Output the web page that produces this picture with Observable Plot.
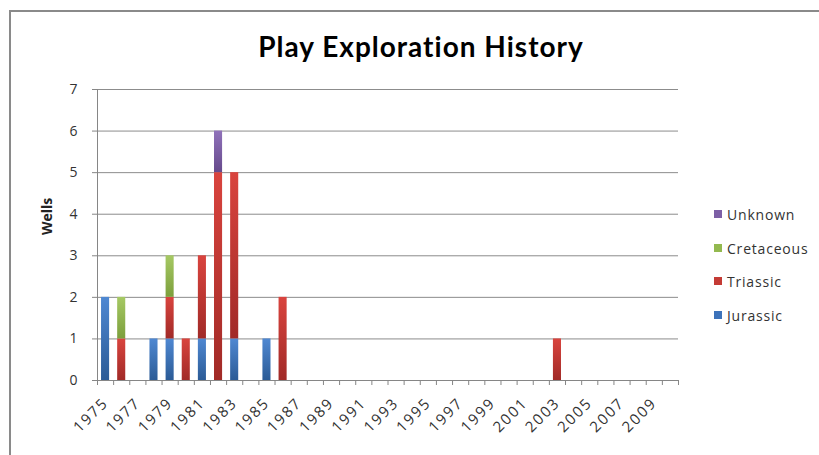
<!DOCTYPE html>
<html>
<head>
<meta charset="utf-8">
<script src="https://cdn.jsdelivr.net/npm/d3@7"></script>
<script src="https://cdn.jsdelivr.net/npm/@observablehq/plot@0.6"></script>
<style>
  html, body { margin: 0; padding: 0; background: #fff; }
  #wrap { position: relative; width: 819px; height: 455px; overflow: hidden; background: #fff; }
  #frame { position: absolute; left: 9px; top: 10px; width: 830px; height: 460px;
           border-top: 2px solid #8a8a8a; border-left: 2px solid #8a8a8a; box-sizing: border-box; }
  #title { position: relative; height: 70px; text-align: center; }
  #title span { position: absolute; left: 421px; top: 32px; transform: translateX(-50%);
                font-family: Lato, "Open Sans", sans-serif; font-weight: bold; font-size: 28px;
                letter-spacing: 1px; color: #000; white-space: nowrap; line-height: 1; }
  #legend { position: absolute; left: 714px; top: 0; font-family: "Open Sans", sans-serif;
            font-size: 14px; color: #333; letter-spacing: 0.8px; }
  .item { position: absolute; left: 0; white-space: nowrap; display: flex; align-items: center; }
  .sw { width: 8px; height: 8px; margin-right: 5px; }
  g[aria-label="x-axis tick label"] text { letter-spacing: 1.8px; }
</style>
</head>
<body>
<div id="wrap">
  <div id="frame"></div>
  <div id="title"><span>Play Exploration History</span></div>
  <div id="chart"></div>
  <div id="legend"></div>
</div>
<script>
const years = [1975,1976,1977,1978,1979,1980,1981,1982,1983,1984,1985,1986,1987,1988,1989,1990,1991,1992,
               1993,1994,1995,1996,1997,1998,1999,2000,2001,2002,2003,2004,2005,2006,2007,2008,2009,2010];
const tickYears = [1975,1977,1979,1981,1983,1985,1987,1989,1991,1993,1995,1997,1999,2001,2003,2005,2007,2009];
const yTicks = [0,1,2,3,4,5,6,7];
const series = ["Jurassic","Triassic","Cretaceous","Unknown"];
const jurassic   = [2,0,0,1,1,0,1,0,1,0,1,0, 0,0,0,0,0,0,0,0,0,0,0,0,0,0,0,0,0,0,0,0,0,0,0,0];
const triassic   = [0,1,0,0,1,1,2,5,4,0,0,2, 0,0,0,0,0,0,0,0,0,0,0,0,0,0,0,0,1,0,0,0,0,0,0,0];
const cretaceous = [0,1,0,0,1,0,0,0,0,0,0,0, 0,0,0,0,0,0,0,0,0,0,0,0,0,0,0,0,0,0,0,0,0,0,0,0];
const unknown    = [0,0,0,0,0,0,0,1,0,0,0,0, 0,0,0,0,0,0,0,0,0,0,0,0,0,0,0,0,0,0,0,0,0,0,0,0];
const baseColors = ["#3d73ba","#c43b35","#93b94f","#7d5fa6"];
const gradStops = [["#4f88d2","#2b5b96"],["#d9443e","#a12a27"],["#a6c964","#7c9f3c"],["#9072ba","#664a8c"]];
const gradIds = ["gJur","gTri","gCre","gUnk"];

const seriesArrays = [jurassic, triassic, cretaceous, unknown];
const data = [];
years.forEach((yr, i) => {
  series.forEach((s, k) => {
    const v = seriesArrays[k][i];
    if (v) data.push({year: yr, type: s, wells: v});
  });
});

const W = 819, H = 385, ML = 97, MR = 141, MT = 19, MB = 75;
const step = (W - ML - MR) / years.length;
const axisColor = "#868686";

const chart = Plot.plot({
  width: W, height: H,
  marginLeft: ML, marginRight: MR, marginTop: MT, marginBottom: MB,
  style: {fontFamily: "'Open Sans', sans-serif", fontSize: "14px", color: "#333", background: "transparent", overflow: "visible"},
  x: {type: "band", domain: years, paddingInner: 0.5, paddingOuter: 0.25, round: false, label: null},
  y: {domain: [0, 7], label: null},
  color: {domain: series, range: gradIds.map(id => `url(#${id})`)},
  marks: [
    Plot.ruleY(yTicks.filter(d => d > 0), {stroke: "#8c8c8c", strokeWidth: 1}),
    Plot.barY(data, Plot.stackY({x: "year", y: "wells", fill: "type", order: series})),
    Plot.ruleY([0], {stroke: axisColor, strokeWidth: 1}),
    Plot.frame({anchor: "left", stroke: axisColor}),
    Plot.axisY({ticks: yTicks, tickFormat: d => String(d), tickSize: 5, tickPadding: 15, stroke: axisColor, fill: "#333", fontSize: 14, label: null}),
    Plot.axisX({ticks: tickYears, tickFormat: d => String(d), tickSize: 0, tickRotate: -45, tickPadding: 20, fill: "#333", fontSize: 15, label: null}),
    Plot.ruleX(years, {x: d => d, dx: -step / 2, y1: 0, y2: 0, insetBottom: -5, stroke: axisColor}),
    Plot.ruleX([years[years.length - 1]], {x: d => d, dx: step / 2, y1: 0, y2: 0, insetBottom: -5, stroke: axisColor}),
    Plot.text(["Wells"], {frameAnchor: "left", dx: -50, rotate: -90, fontWeight: "bold", fontSize: 14, fill: "#222"})
  ]
});

// gradient definitions for the bar fills
const ns = "http://www.w3.org/2000/svg";
const defs = document.createElementNS(ns, "defs");
gradIds.forEach((id, k) => {
  const lg = document.createElementNS(ns, "linearGradient");
  lg.setAttribute("id", id);
  lg.setAttribute("x1", "0"); lg.setAttribute("y1", "0");
  lg.setAttribute("x2", "0"); lg.setAttribute("y2", "1");
  gradStops[k].forEach((c, j) => {
    const st = document.createElementNS(ns, "stop");
    st.setAttribute("offset", j === 0 ? "0%" : "100%");
    st.setAttribute("stop-color", c);
    lg.appendChild(st);
  });
  defs.appendChild(lg);
});
chart.insertBefore(defs, chart.firstChild);
document.getElementById("chart").appendChild(chart);

// legend (top to bottom: reverse stacking order)
const legend = document.getElementById("legend");
const legendY = [214, 248, 281, 315];
series.slice().reverse().forEach((s, j) => {
  const k = series.indexOf(s);
  const item = document.createElement("div");
  item.className = "item";
  item.style.top = (legendY[j] - 10) + "px";
  item.style.height = "20px";
  item.innerHTML = `<span class="sw" style="background:${baseColors[k]}"></span><span>${s}</span>`;
  legend.appendChild(item);
});
</script>
</body>
</html>
